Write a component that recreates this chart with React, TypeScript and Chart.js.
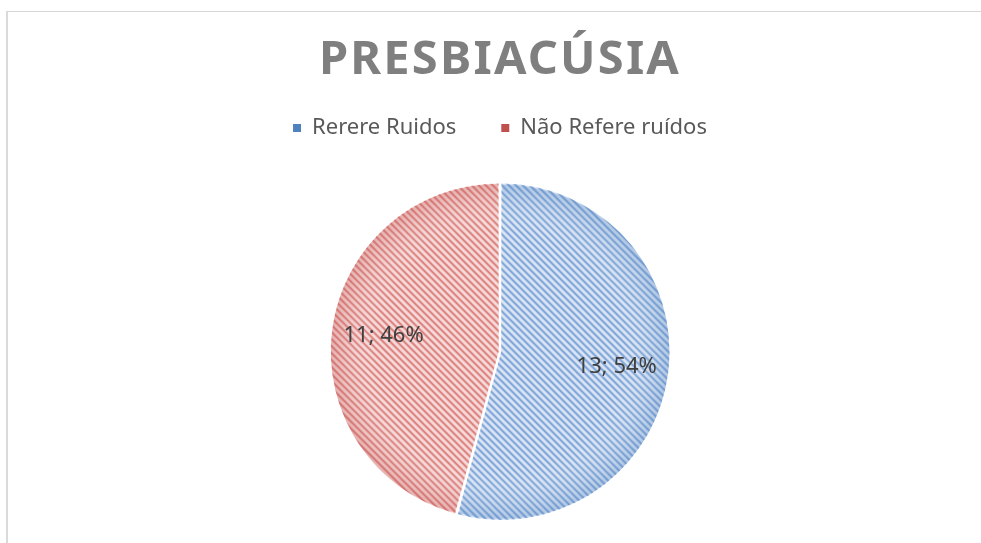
import React, { useEffect, useRef } from "react";
import { Chart, registerables } from "chart.js";
Chart.register(...registerables);

const TITLE = "PRESBIACÚSIA";
const categories = ["Rerere Ruidos", "Não Refere ruídos"];
const values = [13, 11];
const baseColors = ["#4f81bd", "#c0504d"];
const patternBg = ["#dce6f4", "#f5dcdb"];
const patternMid = ["#adc6e8", "#eab0ae"];
const patternCore = ["#7ca2d6", "#dc7f7c"];
const edgeShade = ["rgba(79,129,189,0.3)", "rgba(192,80,77,0.3)"];

const FONT = "'Noto Sans', 'Open Sans', sans-serif";

function makePattern(ctx: CanvasRenderingContext2D, i: number) {
  const size = 7;
  const c = document.createElement("canvas");
  c.width = size;
  c.height = size;
  const g = c.getContext("2d")!;
  g.fillStyle = patternBg[i];
  g.fillRect(0, 0, size, size);
  for (let y = 0; y < size; y++) {
    for (let x = 0; x < size; x++) {
      const d = (((x - y) % size) + size) % size;
      if (d === 0 || d === 1) {
        g.fillStyle = patternCore[i];
        g.fillRect(x, y, 1, 1);
      } else if (d === 2 || d === size - 1) {
        g.fillStyle = patternMid[i];
        g.fillRect(x, y, 1, 1);
      }
    }
  }
  return ctx.createPattern(c, "repeat")!;
}

function arcTranslate(arc: any, offsetOpt: number) {
  const { startAngle, endAngle } = arc;
  const circumference = endAngle - startAngle;
  const offset = offsetOpt / 4;
  const half = (startAngle + endAngle) / 2;
  const fix = 1 - Math.sin(Math.min(Math.PI, circumference || 0));
  const total = offset + offset * fix;
  return { dx: Math.cos(half) * total, dy: Math.sin(half) * total, half };
}

const OFFSET = 5;

const titleSpacingPlugin = {
  id: "titleSpacing",
  afterInit(chart: any) {
    const tb = chart.titleBlock;
    if (tb && !tb.__patched) {
      const orig = tb.draw.bind(tb);
      tb.draw = () => {
        const ctx = chart.ctx;
        ctx.save();
        try {
          (ctx as any).letterSpacing = "2.2px";
        } catch (e) {}
        orig();
        ctx.restore();
      };
      tb.__patched = true;
    }
  },
};

const sliceDecorPlugin = {
  id: "sliceDecor",
  afterDatasetsDraw(chart: any) {
    const ctx = chart.ctx as CanvasRenderingContext2D;
    const meta = chart.getDatasetMeta(0);
    const data = chart.data.datasets[0].data as number[];
    const total = data.reduce((a, b) => a + b, 0);
    meta.data.forEach((arc: any, i: number) => {
      const p = arc.getProps(["x", "y", "startAngle", "endAngle", "outerRadius"], true);
      const { dx, dy } = arcTranslate(p, OFFSET);
      const cx = p.x + dx;
      const cy = p.y + dy;
      const r = p.outerRadius;
      ctx.save();
      ctx.beginPath();
      ctx.moveTo(cx, cy);
      ctx.arc(cx, cy, r, p.startAngle, p.endAngle);
      ctx.closePath();
      ctx.clip();
      const grad = ctx.createRadialGradient(cx, cy, r * 0.72, cx, cy, r);
      grad.addColorStop(0, "rgba(255,255,255,0)");
      grad.addColorStop(1, edgeShade[i]);
      ctx.fillStyle = grad;
      ctx.fillRect(cx - r - 2, cy - r - 2, 2 * r + 4, 2 * r + 4);
      ctx.restore();
    });
    meta.data.forEach((arc: any, i: number) => {
      const p = arc.getProps(["x", "y", "startAngle", "endAngle", "outerRadius"], true);
      const { dx, dy, half } = arcTranslate(p, OFFSET);
      const cx = p.x + dx;
      const cy = p.y + dy;
      const r = p.outerRadius;
      const v = data[i];
      const pct = Math.round((v / total) * 100);
      const label = `${v}; ${pct}%`;
      const lx = cx + Math.cos(half) * r * 0.69;
      const ly = cy + Math.sin(half) * r * 0.69;
      ctx.save();
      ctx.font = `22px ${FONT}`;
      ctx.fillStyle = "#404040";
      ctx.textAlign = "center";
      ctx.textBaseline = "middle";
      ctx.fillText(label, lx, ly);
      ctx.restore();
    });
  },
};

export default function App() {
  const ref = useRef<HTMLCanvasElement | null>(null);
  useEffect(() => {
    const canvas = ref.current!;
    const ctx = canvas.getContext("2d")!;
    const patterns = values.map((_, i) => makePattern(ctx, i));
    const chart = new Chart(canvas, {
      type: "pie",
      data: {
        labels: categories,
        datasets: [
          {
            data: values,
            backgroundColor: patterns as any,
            borderWidth: 0,
            offset: OFFSET,
            clip: false as any,
          },
        ],
      },
      options: {
        responsive: false,
        animation: false,
        events: [],
        radius: 167,
        layout: { padding: { top: 0, bottom: 6, left: 5, right: 0 } },
        plugins: {
          title: {
            display: true,
            text: TITLE,
            color: "#7f7f7f",
            font: { family: FONT, size: 47, weight: "bold", lineHeight: 1 },
            padding: { top: 37, bottom: -12 },
          },
          legend: {
            display: true,
            position: "top",
            labels: {
              boxWidth: 8,
              boxHeight: 8,
              padding: 45,
              color: "#595959",
              font: { family: FONT, size: 22 },
              generateLabels: () =>
                categories.map((c, i) => ({
                  text: c,
                  fillStyle: baseColors[i],
                  strokeStyle: "rgba(0,0,0,0)",
                  lineWidth: 0,
                  hidden: false,
                  index: i,
                  fontColor: "#595959",
                })),
            },
          },
          tooltip: { enabled: false },
        },
      } as any,
      plugins: [titleSpacingPlugin, sliceDecorPlugin],
    });
    return () => chart.destroy();
  }, []);

  return (
    <div
      style={{
        position: "fixed",
        left: 0,
        top: 0,
        width: 981,
        height: 543,
        overflow: "hidden",
        background: "#ffffff",
      }}
    >
      <div
        style={{
          position: "absolute",
          left: 6,
          top: 11,
          width: 1100,
          height: 700,
          borderTop: "1px solid #d6d6d6",
          borderLeft: "2px solid #dadada",
        }}
      />
      <canvas
        ref={ref}
        width={981}
        height={560}
        style={{ position: "absolute", left: 7, top: 0, width: 981, height: 560 }}
      />
    </div>
  );
}
